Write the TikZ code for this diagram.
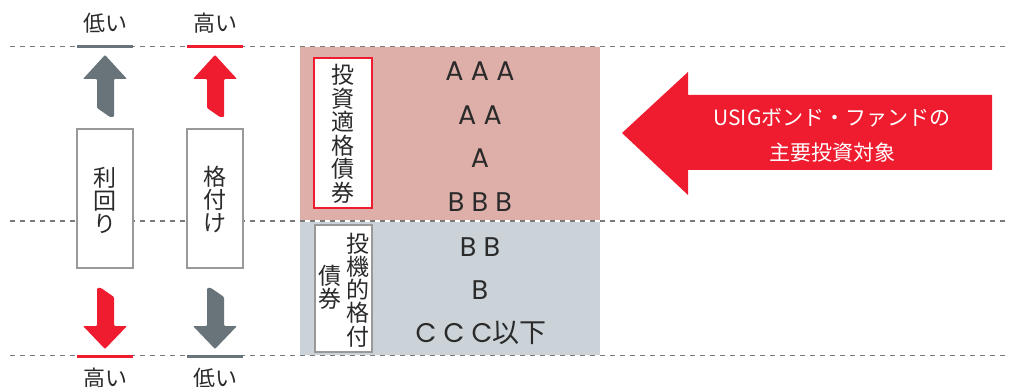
\documentclass[tikz,border=0pt]{standalone}
\usepackage{fontspec}
\setmainfont{Noto Sans CJK JP}
\newfontfamily\latfont{Poppins}
\definecolor{ured}{HTML}{EE1C2E}
\definecolor{ugray}{HTML}{68737A}
\definecolor{upink}{HTML}{DEAFA9}
\definecolor{ublue}{HTML}{CBD3D8}
\definecolor{utext}{HTML}{2A2A2A}
\definecolor{udash}{HTML}{7A7A7A}
\begin{document}
\begin{tikzpicture}[x=1pt,y=-1pt,
  dashline/.style={draw=udash,line width=1.2pt,dash pattern=on 5pt off 5pt},
  bar/.style={line width=3pt},
  lbl/.style={text=utext,font=\fontsize{22}{24}\selectfont,inner sep=0pt},
  vbox/.style={draw=gray!80,fill=white,line width=1.2pt,inner sep=0pt},
  vtext/.style={text=utext,font=\fontsize{23}{23}\selectfont,align=center,inner sep=0pt},
  rating/.style={text=utext,font=\fontsize{27}{28}\selectfont\latfont,inner sep=0pt}]
\useasboundingbox (0,0) rectangle (1009,387);
% bands
\fill[upink] (300,47) rectangle (600,220);
\fill[ublue] (300,222) rectangle (600,355);
% dashed lines
\draw[dashline] (10,46.5) -- (1005,46.5);
\draw[dashline] (10,221) -- (1005,221);
\draw[dashline] (10,355.5) -- (1005,355.5);
% bars
\draw[bar,ugray] (77,46.5) -- (133,46.5);
\draw[bar,ured] (187,46.5) -- (243,46.5);
\draw[bar,ured] (77,356) -- (133,356);
\draw[bar,ugray] (187,356) -- (243,356);
% labels
\node[lbl] (lowtop) at (105,23.5) {低い};
\node[lbl] (hightop) at (215,23.5) {高い};
\node[lbl] (highbot) at (105,378) {高い};
\node[lbl] (lowbot) at (215,378) {低い};
% arrows up
\fill[ugray,rounded corners=1pt] (105,55) -- (127,79) -- (114,79) -- (114,117) -- (110,117) -- (97,108) -- (97,79) -- (83,79) -- cycle;
\fill[ured,rounded corners=1pt] (215,55) -- (237,79) -- (224,79) -- (224,117) -- (220,117) -- (207,108) -- (207,79) -- (193,79) -- cycle;
% arrows down
\fill[ured,rounded corners=1pt] (97,288) -- (101,288) -- (114,297) -- (114,326) -- (127,326) -- (105,349) -- (83,326) -- (97,326) -- cycle;
\fill[ugray,rounded corners=1pt] (207,288) -- (211,288) -- (224,297) -- (224,326) -- (237,326) -- (215,349) -- (193,326) -- (207,326) -- cycle;
% boxes
\node[vbox,minimum width=56pt,minimum height=139pt] (yieldbox) at (105,198.5) {};
\node[vtext] (yieldtxt) at (105,200) {利\\回\\り};
\node[vbox,minimum width=56pt,minimum height=139pt] (ratebox) at (215,198.5) {};
\node[vtext] (ratetxt) at (215,200) {格\\付\\け};
% investment grade box
\node[draw=ured,fill=white,line width=1.2pt,inner sep=0pt,minimum width=58pt,minimum height=150pt] (igbox) at (343,133) {};
\node[vtext,font=\fontsize{23}{23.5}\selectfont] (igtxt) at (343,134) {投\\資\\適\\格\\債\\券};
% speculative box
\node[vbox,minimum width=57pt,minimum height=127pt] (hybox) at (343.5,288.5) {};
\node[vtext,font=\fontsize{23}{23.2}\selectfont] (hytxt1) at (358,290) {投\\機\\的\\格\\付};
\node[vtext,font=\fontsize{23}{23.2}\selectfont] (hytxt2) at (330,287) {債\\券};
% ratings
\node[rating] (raaa) at (480,71) {A A A};
\node[rating] (raa) at (480,115) {A A};
\node[rating] (ra) at (480,158) {A};
\node[rating] (rbbb) at (480,202) {B B B};
\node[rating] (rbb) at (480,247) {B B};
\node[rating] (rb) at (480,290) {B};
\node[rating] (rccc) at (481,333) {C C C{\rmfamily 以下}};
% big arrow
\fill[ured] (622,133) -- (688,72) -- (688,95) -- (992,95) -- (992,170) -- (688,170) -- (688,195) -- cycle;
\node[text=white,font=\fontsize{21}{35}\selectfont,align=center,inner sep=0pt] (target) at (832,135.5) {USIGボンド・ファンドの\\主要投資対象};
\end{tikzpicture}
\end{document}
